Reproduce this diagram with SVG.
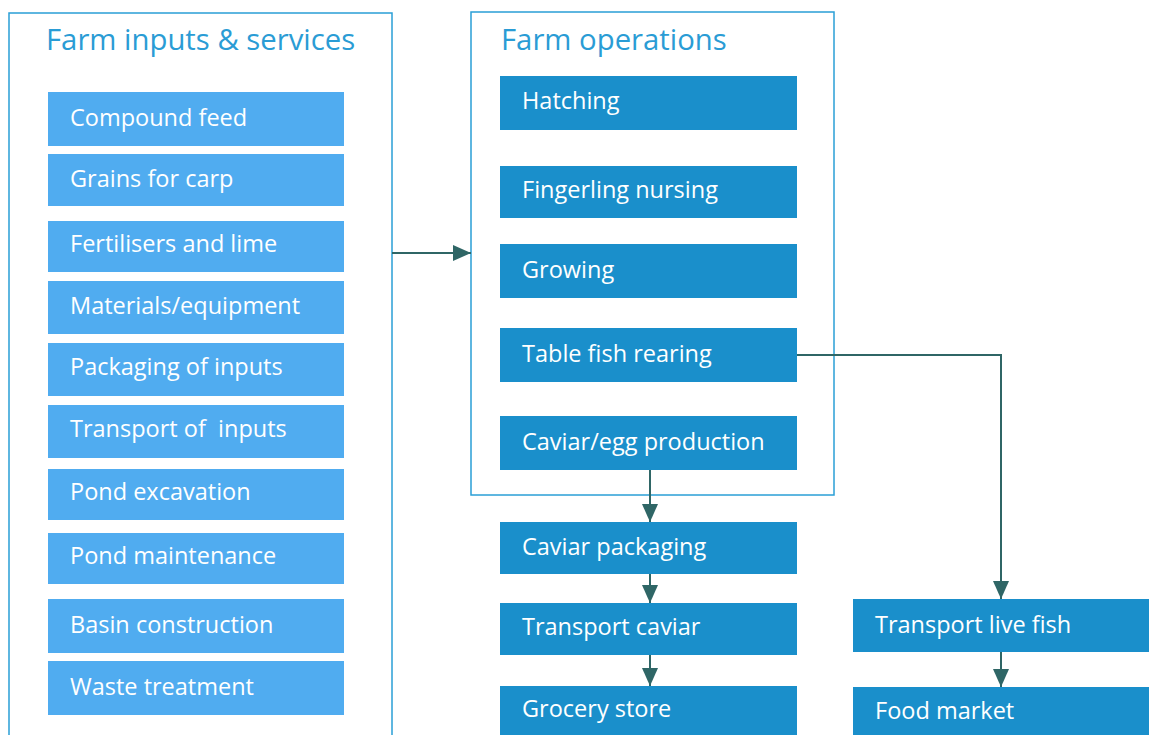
<svg xmlns="http://www.w3.org/2000/svg" width="1151" height="735" viewBox="0 0 1151 735">
<style>
.frame{fill:none;stroke:#2a9fd6;stroke-width:1.5}
.title{font-family:"Open Sans","Liberation Sans",sans-serif;font-size:29.3px;fill:#2a9cd5}
.inp{fill:#50acf0}
.op{fill:#1a8fcb}
.lbl{font-family:"Open Sans","Liberation Sans",sans-serif;font-size:23.5px;fill:#ffffff;white-space:pre}
.conn{fill:none;stroke:#2f6666;stroke-width:2}
</style>
<defs>
<marker id="ahb" markerWidth="18" markerHeight="18" refX="18" refY="9" orient="auto" markerUnits="userSpaceOnUse" viewBox="0 0 18 18">
<path d="M0,1 L18,9 L0,17 z" fill="#2f6666"/>
</marker>
</defs>

<g id="group-inputs">
<rect class="frame" x="9" y="13" width="383" height="740"/>
<text class="title" x="46" y="50">Farm inputs &amp; services</text>
</g>
<g id="group-operations">
<rect class="frame" x="471" y="12" width="363" height="483"/>
<text class="title" x="501" y="50">Farm operations</text>
</g>

<g id="n-compound-feed"><rect class="inp" x="48" y="92" width="296" height="54"/><text class="lbl" x="70" y="126">Compound feed</text></g>
<g id="n-grains"><rect class="inp" x="48" y="154" width="296" height="52"/><text class="lbl" x="70" y="187">Grains for carp</text></g>
<g id="n-fertilisers"><rect class="inp" x="48" y="221" width="296" height="51"/><text class="lbl" x="70" y="252">Fertilisers and lime</text></g>
<g id="n-materials"><rect class="inp" x="48" y="281" width="296" height="53"/><text class="lbl" x="70" y="314">Materials/equipment</text></g>
<g id="n-packaging-inputs"><rect class="inp" x="48" y="343" width="296" height="53"/><text class="lbl" x="70" y="375">Packaging of inputs</text></g>
<g id="n-transport-inputs"><rect class="inp" x="48" y="405" width="296" height="53"/><text class="lbl" x="70" y="437" xml:space="preserve">Transport of  inputs</text></g>
<g id="n-pond-excavation"><rect class="inp" x="48" y="469" width="296" height="51"/><text class="lbl" x="70" y="500">Pond excavation</text></g>
<g id="n-pond-maintenance"><rect class="inp" x="48" y="533" width="296" height="51"/><text class="lbl" x="70" y="564">Pond maintenance</text></g>
<g id="n-basin"><rect class="inp" x="48" y="599" width="296" height="54"/><text class="lbl" x="70" y="633">Basin construction</text></g>
<g id="n-waste"><rect class="inp" x="48" y="661" width="296" height="54"/><text class="lbl" x="70" y="695">Waste treatment</text></g>

<g id="n-hatching"><rect class="op" x="500" y="76" width="297" height="54"/><text class="lbl" x="522" y="109">Hatching</text></g>
<g id="n-fingerling"><rect class="op" x="500" y="166" width="297" height="52"/><text class="lbl" x="522" y="198">Fingerling nursing</text></g>
<g id="n-growing"><rect class="op" x="500" y="244" width="297" height="54"/><text class="lbl" x="522" y="278">Growing</text></g>
<g id="n-table-fish"><rect class="op" x="500" y="328" width="297" height="54"/><text class="lbl" x="522" y="362">Table fish rearing</text></g>
<g id="n-caviar-egg"><rect class="op" x="500" y="416" width="297" height="54"/><text class="lbl" x="522" y="450">Caviar/egg production</text></g>
<g id="n-caviar-packaging"><rect class="op" x="500" y="522" width="297" height="52"/><text class="lbl" x="522" y="555">Caviar packaging</text></g>
<g id="n-transport-caviar"><rect class="op" x="500" y="603" width="297" height="52"/><text class="lbl" x="522" y="635">Transport caviar</text></g>
<g id="n-grocery"><rect class="op" x="500" y="686" width="297" height="60"/><text class="lbl" x="522" y="717">Grocery store</text></g>
<g id="n-transport-live"><rect class="op" x="853" y="599" width="296" height="53"/><text class="lbl" x="875" y="633">Transport live fish</text></g>
<g id="n-food-market"><rect class="op" x="853" y="687" width="296" height="60"/><text class="lbl" x="875" y="719">Food market</text></g>

<g id="connectors">
<path class="conn" d="M392,253 H471" marker-end="url(#ahb)"/>
<path class="conn" d="M650,470 V522" marker-end="url(#ahb)"/>
<path class="conn" d="M650,574 V603" marker-end="url(#ahb)"/>
<path class="conn" d="M650,655 V686" marker-end="url(#ahb)"/>
<path class="conn" d="M797,355 H1001 V599" marker-end="url(#ahb)"/>
<path class="conn" d="M1001,652 V687" marker-end="url(#ahb)"/>
</g>
</svg>
